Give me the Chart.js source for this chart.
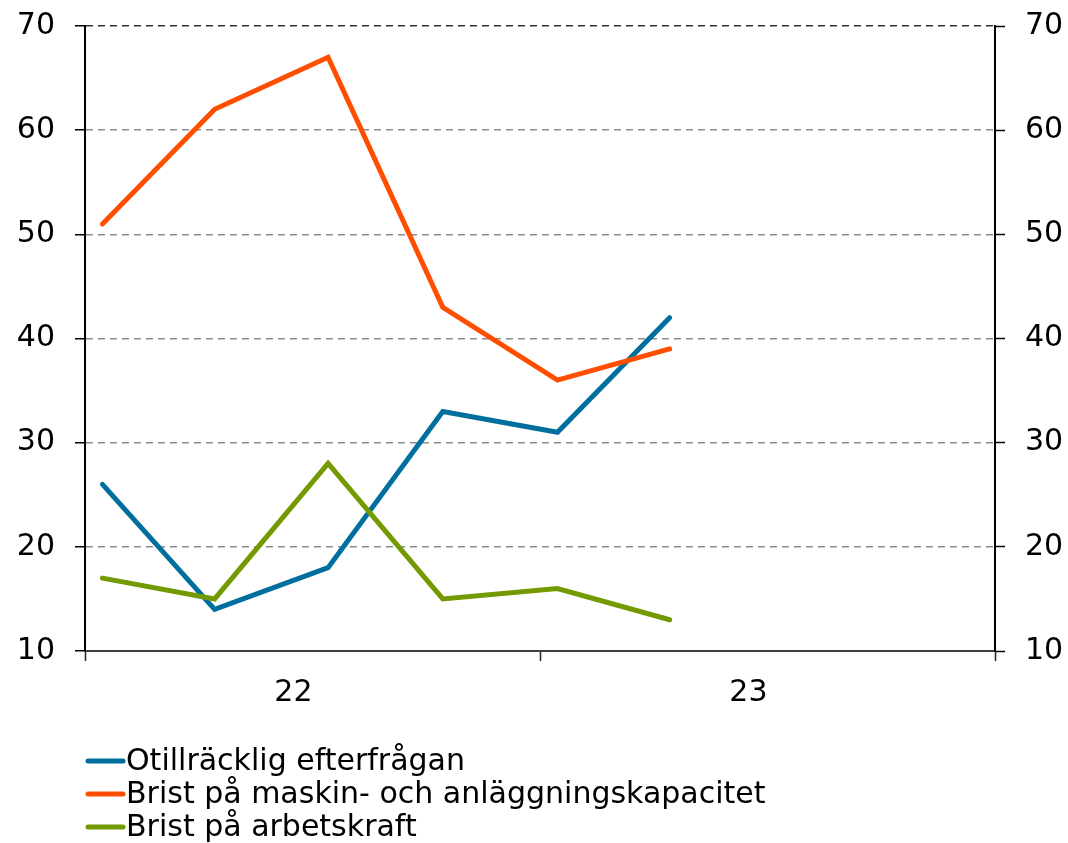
<!DOCTYPE html>
<html>
<head>
<meta charset="utf-8">
<script src="https://cdn.jsdelivr.net/npm/chart.js@4/dist/chart.umd.min.js"></script>
<style>
  html, body { margin: 0; padding: 0; background: #fff; }
  #wrap { width: 1068px; height: 843px; position: relative; }
</style>
</head>
<body>
<div id="wrap"><canvas id="c" width="1068" height="843"></canvas></div>
<script>
// Observation dates (mid-month of first month in each quarter)
const dates = ["2022-01-15", "2022-04-15", "2022-07-15", "2022-10-15", "2023-01-15", "2023-04-15"];
const seriesNames = [
  "Otillräcklig efterfrågan",
  "Brist på maskin- och anläggningskapacitet",
  "Brist på arbetskraft"
];
const otillracklig = [26, 14, 18, 33, 31, 42];
const maskinkapacitet = [51, 62, 67, 43, 36, 39];
const arbetskraft = [17, 15, 28, 15, 16, 13];
const seriesColors = ["#006f9e", "#ff4e00", "#739a00"];
const yearLabels = ["22", "23"];
const yearStart = 2022;
const yTicks = [10, 20, 30, 40, 50, 60, 70];
const labelPos = 0.458; // where within each year the year label sits

function toYearFraction(s) {
  const d = new Date(s + "T00:00:00Z");
  const y = d.getUTCFullYear();
  const start = Date.UTC(y, 0, 1);
  const end = Date.UTC(y + 1, 0, 1);
  return y + (d.getTime() - start) / (end - start);
}
const xs = dates.map(toYearFraction);
const mk = (vals) => vals.map((v, i) => ({ x: xs[i], y: v }));

const FONT = "'DejaVu Sans', Verdana, sans-serif";
const FS = 30;

const legendPlugin = {
  id: 'customLegend',
  afterDraw(chart) {
    const ctx = chart.ctx;
    ctx.save();
    ctx.font = FS + "px " + FONT;
    ctx.textBaseline = 'middle';
    ctx.fillStyle = '#000';
    const x0 = 88, x1 = 123, tx = 126;
    const rowY = [761, 794, 827];
    seriesNames.forEach((name, i) => {
      ctx.strokeStyle = seriesColors[i];
      ctx.lineWidth = 5;
      ctx.lineCap = 'round';
      ctx.beginPath();
      ctx.moveTo(x0, rowY[i]);
      ctx.lineTo(x1, rowY[i]);
      ctx.stroke();
      ctx.fillText(name, tx, rowY[i] + 1);
    });
    ctx.restore();
  }
};

const yGridColor = (c) => c.tick && c.tick.value === 70 ? '#333' : (c.tick && c.tick.value === 10 ? 'rgba(0,0,0,0)' : '#8c8c8c');
const noPad = (s) => { s.paddingTop = 0; s.paddingBottom = 0; };
const isInt = (v) => Math.abs(v - Math.round(v)) < 1e-6;

new Chart(document.getElementById('c'), {
  type: 'line',
  data: {
    datasets: [
      { label: seriesNames[0], data: mk(otillracklig), borderColor: seriesColors[0], order: 3 },
      { label: seriesNames[1], data: mk(maskinkapacitet), borderColor: seriesColors[1], order: 2 },
      { label: seriesNames[2], data: mk(arbetskraft), borderColor: seriesColors[2], order: 1 }
    ].map(d => Object.assign(d, {
      borderWidth: 5, pointRadius: 0, tension: 0, fill: false,
      borderCapStyle: 'round', borderJoinStyle: 'miter'
    }))
  },
  options: {
    responsive: false,
    animation: false,
    layout: { padding: { top: 26, left: 0, right: 0, bottom: 0 } },
    plugins: { legend: { display: false }, tooltip: { enabled: false } },
    scales: {
      x: {
        type: 'linear',
        min: yearStart,
        max: yearStart + yearLabels.length,
        afterFit(s) { s.height = 192; s.paddingLeft = 0; s.paddingRight = 0; },
        afterBuildTicks(s) {
          const t = [];
          for (let k = 0; k <= yearLabels.length; k++) {
            t.push({ value: yearStart + k });
            if (k < yearLabels.length) t.push({ value: yearStart + k + labelPos });
          }
          s.ticks = t;
        },
        ticks: {
          autoSkip: false,
          maxRotation: 0,
          padding: 14,
          color: '#000',
          font: { family: FONT, size: FS },
          callback(v) {
            if (isInt(v)) return '';
            const k = Math.floor(v - yearStart);
            return yearLabels[k] || '';
          }
        },
        grid: {
          drawOnChartArea: false,
          drawTicks: true,
          tickLength: 10,
          tickColor: (c) => (c.tick && isInt(c.tick.value)) ? '#222' : 'rgba(0,0,0,0)',
          tickWidth: 1.5
        },
        border: { display: true, color: '#404040', width: 2 }
      },
      y: {
        position: 'left',
        min: 10, max: 70,
        afterFit(s) { s.width = 85; noPad(s); },
        afterBuildTicks(s) { s.ticks = yTicks.map(v => ({ value: v })); },
        ticks: { padding: 20, color: '#000', font: { family: FONT, size: FS } },
        grid: {
          color: yGridColor,
          lineWidth: 1.5,
          tickLength: 10,
          tickColor: '#000',
          tickWidth: 1.5,
          tickBorderDash: []
        },
        border: { display: true, color: '#000', width: 2, dash: [7, 5] }
      },
      y2: {
        position: 'right',
        min: 10, max: 70,
        afterFit(s) { s.width = 73; noPad(s); },
        afterBuildTicks(s) { s.ticks = yTicks.map(v => ({ value: v })); },
        ticks: { padding: 20, color: '#000', font: { family: FONT, size: FS } },
        grid: {
          drawOnChartArea: false,
          tickLength: 10,
          tickColor: '#000',
          tickWidth: 1.5,
          tickBorderDash: []
        },
        border: { display: true, color: '#000', width: 2 }
      }
    }
  },
  plugins: [legendPlugin]
});
</script>
</body>
</html>
